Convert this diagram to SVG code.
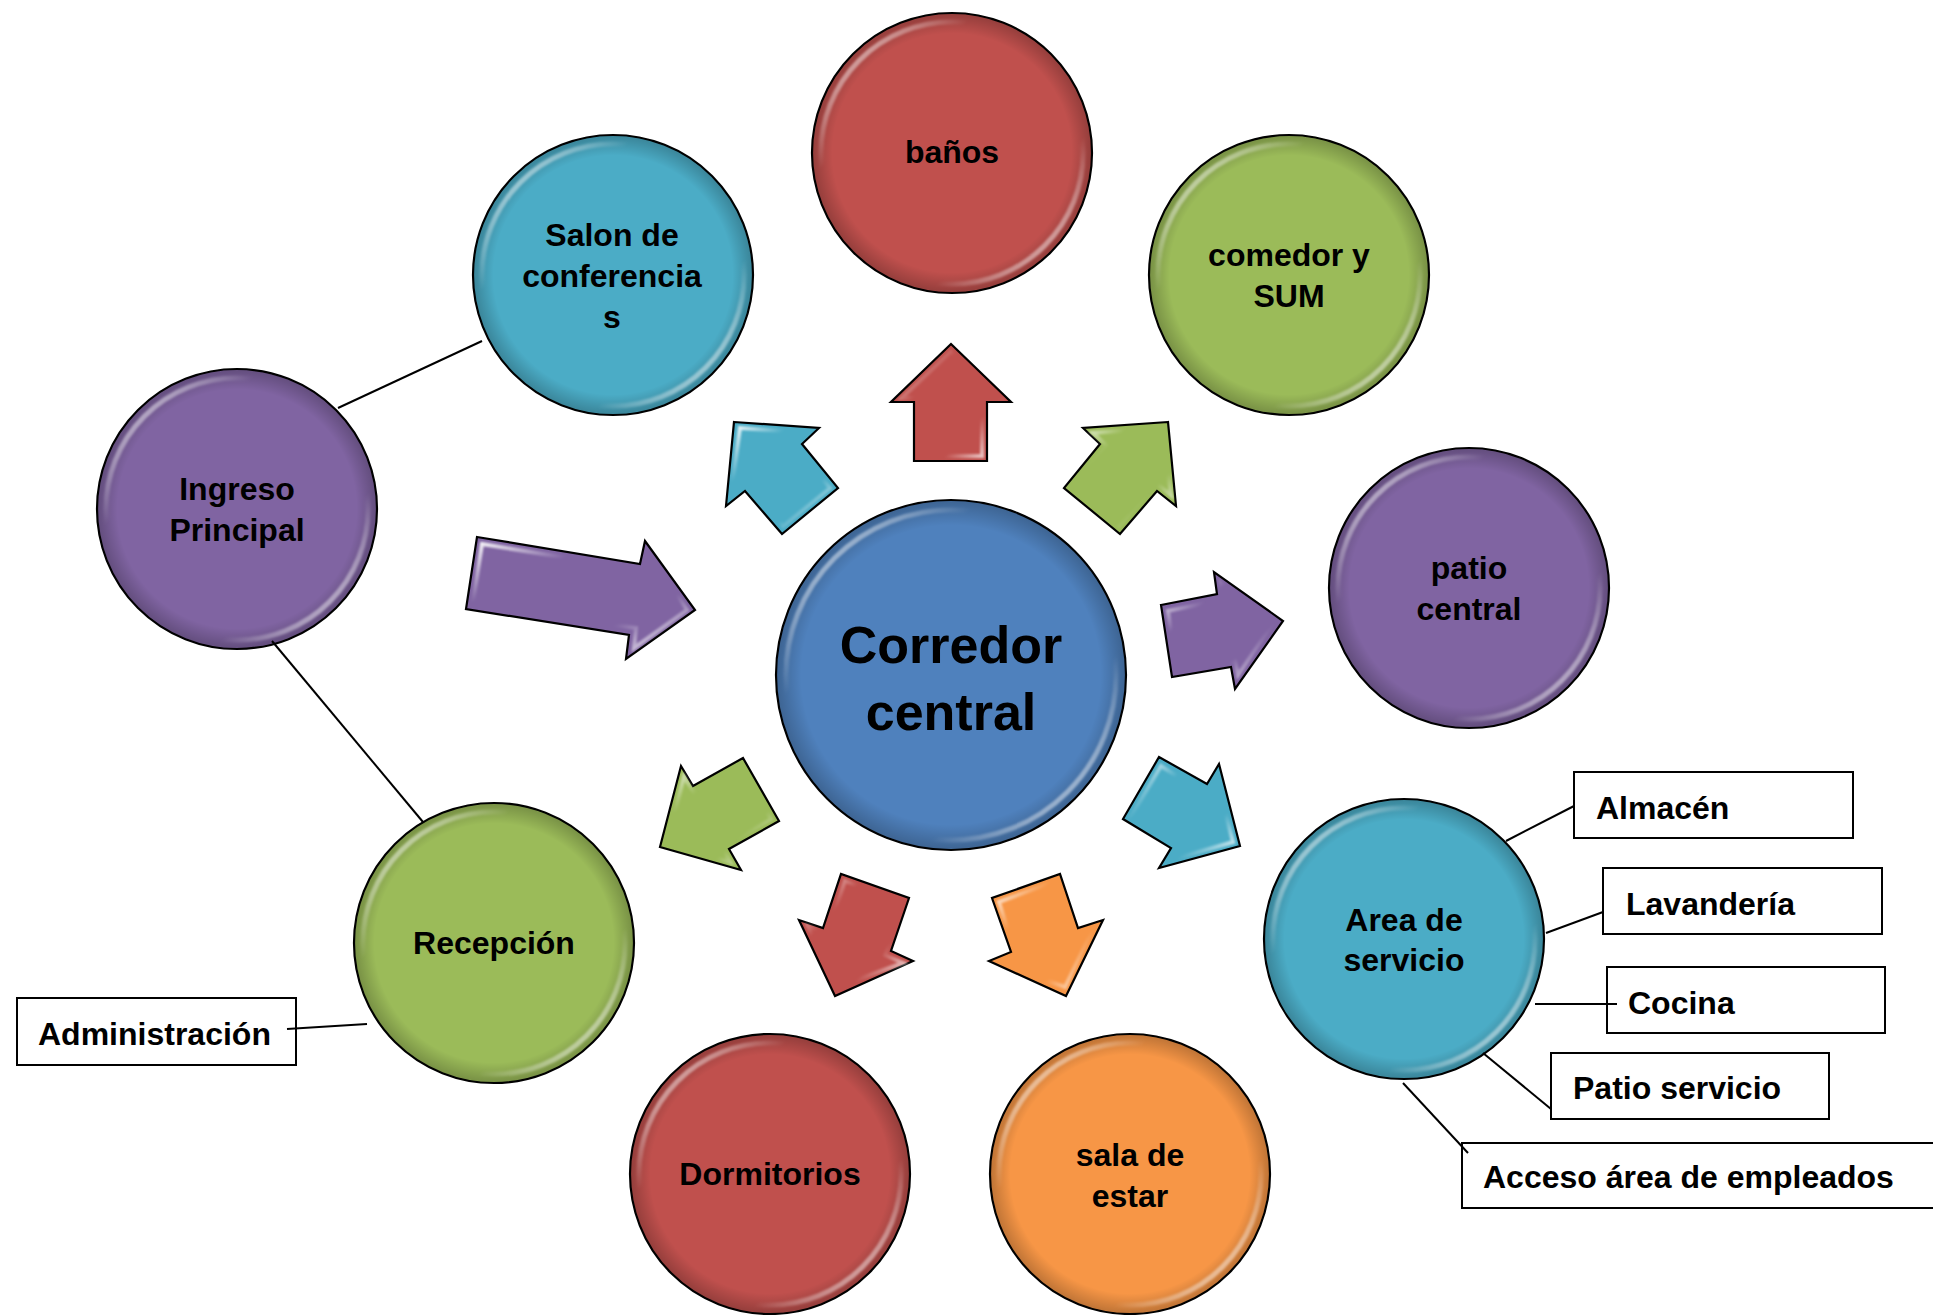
<svg xmlns="http://www.w3.org/2000/svg" width="1933" height="1315" viewBox="0 0 1933 1315">
<defs>
<style>
.ball{stroke:#000;stroke-width:2.2}
.shade{fill:url(#edge);stroke:none}
.hl{fill:none;stroke:url(#gloss);stroke-width:5;filter:url(#soft)}
.lbl{font-family:"Liberation Sans",Arial,sans-serif;font-weight:bold;font-size:32px;fill:#000;text-anchor:middle}
.big{font-size:52px}
.box{fill:#fff;stroke:#000;stroke-width:2}
.btxt{font-family:"Liberation Sans",Arial,sans-serif;font-weight:bold;font-size:32px;fill:#000}
.arr{stroke:#000;stroke-width:2.2;stroke-linejoin:miter}
.ahl{fill:none;stroke:url(#gloss);stroke-width:4;filter:url(#soft)}
.ln{stroke:#000;stroke-width:2;fill:none}
.red{fill:#C0504D}.cyan{fill:#4BACC6}.green{fill:#9BBB59}.purple{fill:#8064A2}.orange{fill:#F79646}.blue{fill:#4F81BD}
</style>
<linearGradient id="gloss" x1="0" y1="0" x2="1" y2="1">
<stop offset="0" stop-color="#fff" stop-opacity="0.95"/>
<stop offset="0.28" stop-color="#fff" stop-opacity="0"/>
<stop offset="0.72" stop-color="#fff" stop-opacity="0"/>
<stop offset="1" stop-color="#fff" stop-opacity="0.95"/>
</linearGradient>
<radialGradient id="edge" cx="0.5" cy="0.5" r="0.5">
<stop offset="0.86" stop-color="#000" stop-opacity="0"/>
<stop offset="1" stop-color="#000" stop-opacity="0.22"/>
</radialGradient>
<filter id="soft" x="-10%" y="-10%" width="120%" height="120%"><feGaussianBlur stdDeviation="1.2"/></filter>
</defs>
<rect width="1933" height="1315" fill="#fff"/>

<g id="nodes">
<g id="banos"><circle class="ball red" cx="952" cy="153" r="140"/><circle class="shade" cx="952" cy="153" r="139"/><circle class="hl" cx="952" cy="153" r="131"/><text class="lbl" x="952" y="163">baños</text></g>
<g id="salon"><circle class="ball cyan" cx="613" cy="275" r="140"/><circle class="shade" cx="613" cy="275" r="139"/><circle class="hl" cx="613" cy="275" r="131"/><text class="lbl" x="612" y="246">Salon de</text><text class="lbl" x="612" y="287">conferencia</text><text class="lbl" x="612" y="328">s</text></g>
<g id="comedor"><circle class="ball green" cx="1289" cy="275" r="140"/><circle class="shade" cx="1289" cy="275" r="139"/><circle class="hl" cx="1289" cy="275" r="131"/><text class="lbl" x="1289" y="266">comedor y</text><text class="lbl" x="1289" y="307">SUM</text></g>
<g id="ingreso"><circle class="ball purple" cx="237" cy="509" r="140"/><circle class="shade" cx="237" cy="509" r="139"/><circle class="hl" cx="237" cy="509" r="131"/><text class="lbl" x="237" y="500">Ingreso</text><text class="lbl" x="237" y="541">Principal</text></g>
<g id="patio"><circle class="ball purple" cx="1469" cy="588" r="140"/><circle class="shade" cx="1469" cy="588" r="139"/><circle class="hl" cx="1469" cy="588" r="131"/><text class="lbl" x="1469" y="579">patio</text><text class="lbl" x="1469" y="620">central</text></g>
<g id="corredor"><circle class="ball blue" cx="951" cy="675" r="175"/><circle class="shade" cx="951" cy="675" r="174"/><circle class="hl" cx="951" cy="675" r="165"/><text class="lbl big" x="951" y="663">Corredor</text><text class="lbl big" x="951" y="730">central</text></g>
<g id="recepcion"><circle class="ball green" cx="494" cy="943" r="140"/><circle class="shade" cx="494" cy="943" r="139"/><circle class="hl" cx="494" cy="943" r="131"/><text class="lbl" x="494" y="954">Recepción</text></g>
<g id="area"><circle class="ball cyan" cx="1404" cy="939" r="140"/><circle class="shade" cx="1404" cy="939" r="139"/><circle class="hl" cx="1404" cy="939" r="131"/><text class="lbl" x="1404" y="931">Area de</text><text class="lbl" x="1404" y="971">servicio</text></g>
<g id="dormitorios"><circle class="ball red" cx="770" cy="1174" r="140"/><circle class="shade" cx="770" cy="1174" r="139"/><circle class="hl" cx="770" cy="1174" r="131"/><text class="lbl" x="770" y="1185">Dormitorios</text></g>
<g id="sala"><circle class="ball orange" cx="1130" cy="1174" r="140"/><circle class="shade" cx="1130" cy="1174" r="139"/><circle class="hl" cx="1130" cy="1174" r="131"/><text class="lbl" x="1130" y="1166">sala de</text><text class="lbl" x="1130" y="1207">estar</text></g>
<g id="administracion"><rect class="box" x="17" y="998" width="279" height="67"/><text class="btxt" x="38" y="1045">Administración</text></g>
<g id="almacen"><rect class="box" x="1574" y="772" width="279" height="66"/><text class="btxt" x="1596" y="819">Almacén</text></g>
<g id="lavanderia"><rect class="box" x="1603" y="868" width="279" height="66"/><text class="btxt" x="1626" y="915">Lavandería</text></g>
<g id="cocina"><rect class="box" x="1607" y="967" width="278" height="66"/><text class="btxt" x="1628" y="1014">Cocina</text></g>
<g id="patioservicio"><rect class="box" x="1551" y="1053" width="278" height="66"/><text class="btxt" x="1573" y="1099">Patio servicio</text></g>
<g id="acceso"><rect class="box" x="1462" y="1143" width="480" height="65"/><text class="btxt" x="1483" y="1188">Acceso área de empleados</text></g>
</g>

<g id="connectors">
<line class="ln" x1="338" y1="408" x2="482" y2="341"/>
<line class="ln" x1="272" y1="641" x2="423" y2="822"/>
<line class="ln" x1="287" y1="1029" x2="367" y2="1024"/>
<line class="ln" x1="1506" y1="841" x2="1574" y2="806"/>
<line class="ln" x1="1546" y1="933" x2="1603" y2="912"/>
<line class="ln" x1="1535" y1="1004" x2="1617" y2="1004"/>
<line class="ln" x1="1483" y1="1053" x2="1551" y2="1109"/>
<line class="ln" x1="1403" y1="1083" x2="1468" y2="1153"/>

<g id="arrow-banos"><polygon class="arr red" points="951,344 1011,402 987,402 987,461 914,461 914,402 891,402"/><polygon class="ahl" points="951,352 1000,398 982,398 982,456 919,456 919,398 902,398"/></g>
<g id="arrow-salon"><polygon class="arr cyan" points="734,422 819,428 802,444 838,488 782,534 745,491 726,506"/><polygon class="ahl" points="740,428 809,433 795,446 830,488 783,526 746,483 731,495"/></g>
<g id="arrow-comedor"><polygon class="arr green" points="1168,422 1083,428 1100,444 1064,488 1120,534 1157,491 1176,506"/><polygon class="ahl" points="1162,428 1093,433 1107,446 1072,488 1119,526 1156,483 1171,495"/></g>
<g id="arrow-ingreso"><polygon class="arr purple" points="477,537 640,564 645,541 695,610 626,659 629,635 466,609"/><polygon class="ahl" points="482,544 646,571 650,552 687,610 634,648 636,628 473,603"/></g>
<g id="arrow-patio"><polygon class="arr purple" points="1161,605 1217,594 1214,572 1283,621 1235,689 1231,667 1172,677"/><polygon class="ahl" points="1168,611 1223,600 1221,583 1274,621 1238,675 1235,661 1177,670"/></g>
<g id="arrow-recepcion"><polygon class="arr green" points="660,847 681,766 693,786 743,758 779,821 729,849 741,870"/><polygon class="ahl" points="667,843 684,777 695,794 741,766 771,819 722,847 730,862"/></g>
<g id="arrow-dormitorios"><polygon class="arr red" points="835,996 799,920 823,928 841,874 909,898 891,951 913,961"/><polygon class="ahl" points="836,987 808,926 828,933 845,881 902,902 885,955 903,963"/></g>
<g id="arrow-sala"><polygon class="arr orange" points="1066,996 1103,920 1078,928 1060,874 992,898 1011,952 989,961"/><polygon class="ahl" points="1065,987 1094,926 1073,933 1056,881 999,902 1016,955 998,963"/></g>
<g id="arrow-area"><polygon class="arr cyan" points="1240,846 1219,764 1207,784 1159,757 1123,819 1171,848 1159,868"/><polygon class="ahl" points="1233,842 1216,777 1205,794 1161,766 1131,817 1178,845 1170,860"/></g>
</g>
</svg>
